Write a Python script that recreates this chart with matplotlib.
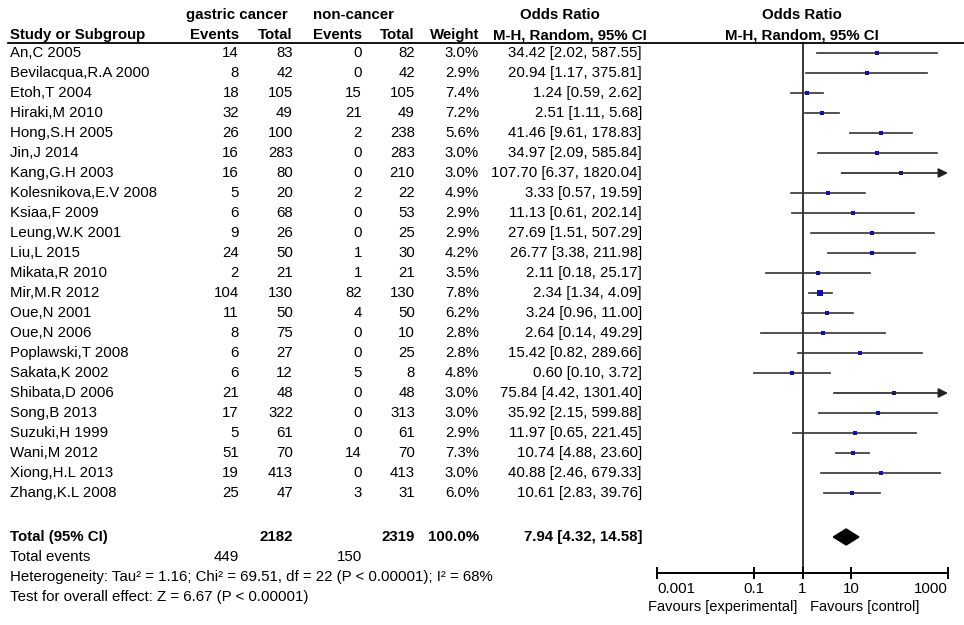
import numpy as np
import matplotlib
matplotlib.use('Agg')
import matplotlib.pyplot as plt
from matplotlib.patches import Polygon

plt.rcParams['font.family'] = ['Liberation Sans', 'DejaVu Sans']

studies = ['An,C 2005', 'Bevilacqua,R.A 2000', 'Etoh,T 2004', 'Hiraki,M 2010',
           'Hong,S.H 2005', 'Jin,J 2014', 'Kang,G.H 2003', 'Kolesnikova,E.V 2008',
           'Ksiaa,F 2009', 'Leung,W.K 2001', 'Liu,L 2015', 'Mikata,R 2010',
           'Mir,M.R 2012', 'Oue,N 2001', 'Oue,N 2006', 'Poplawski,T 2008',
           'Sakata,K 2002', 'Shibata,D 2006', 'Song,B 2013', 'Suzuki,H 1999',
           'Wani,M 2012', 'Xiong,H.L 2013', 'Zhang,K.L 2008']
ev_gc = [14, 8, 18, 32, 26, 16, 16, 5, 6, 9, 24, 2, 104, 11, 8, 6, 6, 21, 17, 5, 51, 19, 25]
tot_gc = [83, 42, 105, 49, 100, 283, 80, 20, 68, 26, 50, 21, 130, 50, 75, 27, 12, 48, 322, 61, 70, 413, 47]
ev_nc = [0, 0, 15, 21, 2, 0, 0, 2, 0, 0, 1, 1, 82, 4, 0, 0, 5, 0, 0, 0, 14, 0, 3]
tot_nc = [82, 42, 105, 49, 238, 283, 210, 22, 53, 25, 30, 21, 130, 50, 10, 25, 8, 48, 313, 61, 70, 413, 31]
weight = [3.0, 2.9, 7.4, 7.2, 5.6, 3.0, 3.0, 4.9, 2.9, 2.9, 4.2, 3.5, 7.8, 6.2, 2.8, 2.8,
          4.8, 3.0, 3.0, 2.9, 7.3, 3.0, 6.0]
odds = [34.42, 20.94, 1.24, 2.51, 41.46, 34.97, 107.70, 3.33, 11.13, 27.69, 26.77, 2.11,
        2.34, 3.24, 2.64, 15.42, 0.60, 75.84, 35.92, 11.97, 10.74, 40.88, 10.61]
ci_lo = [2.02, 1.17, 0.59, 1.11, 9.61, 2.09, 6.37, 0.57, 0.61, 1.51, 3.38, 0.18,
         1.34, 0.96, 0.14, 0.82, 0.10, 4.42, 2.15, 0.65, 4.88, 2.46, 2.83]
ci_hi = [587.55, 375.81, 2.62, 5.68, 178.83, 585.84, 1820.04, 19.59, 202.14, 507.29,
         211.98, 25.17, 4.09, 11.00, 49.29, 289.66, 3.72, 1301.40, 599.88, 221.45,
         23.60, 679.33, 39.76]
total_n = [2182, 2319]
total_events = [449, 150]
total_or = [7.94, 4.32, 14.58]
ticks = [0.001, 0.1, 1, 10, 1000]
tick_labels = ['0.001', '0.1', '1', '10', '1000']

fs = 10.8
fig = plt.figure(figsize=(9.64, 6.25), dpi=100)
ax = fig.add_axes([0, 0, 1, 1])
ax.set_xlim(0, 964)
ax.set_ylim(625, 0)
ax.axis('off')

# header
ax.text(237, 15, 'gastric cancer', ha='center', va='center', fontsize=fs, fontweight='bold')
ax.text(353, 15, 'non-cancer', ha='center', va='center', fontsize=fs, fontweight='bold')
ax.text(560, 15, 'Odds Ratio', ha='center', va='center', fontsize=fs, fontweight='bold')
ax.text(802, 15, 'Odds Ratio', ha='center', va='center', fontsize=fs, fontweight='bold')
ax.text(10, 35, 'Study or Subgroup', ha='left', va='center', fontsize=fs, fontweight='bold')
cols = [239, 293, 362, 415, 479]
for x, lab in zip(cols, ['Events', 'Total', 'Events', 'Total', 'Weight']):
    ax.text(x, 35, lab, ha='right', va='center', fontsize=fs, fontweight='bold')
ax.text(570, 35, 'M-H, Random, 95% CI', ha='center', va='center', fontsize=fs, fontweight='bold')
ax.text(802, 35, 'M-H, Random, 95% CI', ha='center', va='center', fontsize=fs, fontweight='bold')
ax.plot([8, 964], [42.5, 42.5], color='black', lw=1.3)

y0, dy = 53, 20
rows = y0 + dy * np.arange(len(studies))
for i, y in enumerate(rows):
    ax.text(10, y, studies[i], ha='left', va='center', fontsize=fs)
    vals = [str(ev_gc[i]), str(tot_gc[i]), str(ev_nc[i]), str(tot_nc[i]), f'{weight[i]:.1f}%']
    for x, v in zip(cols, vals):
        ax.text(x, y, v, ha='right', va='center', fontsize=fs)
    ax.text(642, y, f'{odds[i]:.2f} [{ci_lo[i]:.2f}, {ci_hi[i]:.2f}]',
            ha='right', va='center', fontsize=fs)

yt = 537
ax.text(10, yt, 'Total (95% CI)', ha='left', va='center', fontsize=fs, fontweight='bold')
ax.text(cols[1], yt, str(total_n[0]), ha='right', va='center', fontsize=fs, fontweight='bold')
ax.text(cols[3], yt, str(total_n[1]), ha='right', va='center', fontsize=fs, fontweight='bold')
ax.text(cols[4], yt, '100.0%', ha='right', va='center', fontsize=fs, fontweight='bold')
ax.text(642, yt, f'{total_or[0]:.2f} [{total_or[1]:.2f}, {total_or[2]:.2f}]',
        ha='right', va='center', fontsize=fs, fontweight='bold')
ax.text(10, 557, 'Total events', ha='left', va='center', fontsize=fs)
ax.text(cols[0], 557, str(total_events[0]), ha='right', va='center', fontsize=fs)
ax.text(cols[2], 557, str(total_events[1]), ha='right', va='center', fontsize=fs)
ax.text(10, 577, 'Heterogeneity: Tau\u00b2 = 1.16; Chi\u00b2 = 69.51, df = 22 (P < 0.00001); I\u00b2 = 68%',
        ha='left', va='center', fontsize=fs)
ax.text(10, 597, 'Test for overall effect: Z = 6.67 (P < 0.00001)',
        ha='left', va='center', fontsize=fs)

# forest panel
fa = fig.add_axes([657 / 964, 0, (948 - 657) / 964, 1])
fa.set_xscale('log')
fa.set_xlim(1e-3, 1e3)
fa.set_ylim(625, 0)
fa.patch.set_alpha(0)
for s in ['top', 'left', 'right']:
    fa.spines[s].set_visible(False)
fa.spines['bottom'].set_position(('data', 573))
fa.spines['bottom'].set_linewidth(1.4)
fa.set_yticks([])
fa.set_xticks(ticks)
fa.set_xticklabels(tick_labels)
fa.minorticks_off()
fa.tick_params(axis='x', direction='inout', length=9, width=1.4, labelsize=fs, pad=2)
lbls = fa.get_xticklabels()
lbls[0].set_horizontalalignment('left')
lbls[-1].set_horizontalalignment('right')

fa.plot([1, 1], [43, 573], color='black', lw=1.1)
for i, y in enumerate(rows):
    hi = ci_hi[i]
    if hi > 1e3:
        fa.annotate('', xy=(1e3, y), xytext=(ci_lo[i], y),
                    arrowprops=dict(arrowstyle='-|>', color='#222222', lw=1.2,
                                    mutation_scale=14, shrinkA=0, shrinkB=0))
    else:
        fa.plot([ci_lo[i], hi], [y, y], color='#333333', lw=1.2)
    fa.plot(odds[i], y, marker='s', color='#1010b0', ms=1.3 * np.sqrt(weight[i]), mew=0)

dia = Polygon([(total_or[1], yt), (total_or[0], yt - 8), (total_or[2], yt), (total_or[0], yt + 8)],
              closed=True, color='black')
fa.add_patch(dia)

ax.text(797, 607, 'Favours [experimental]', ha='right', va='center', fontsize=10.5)
ax.text(810, 607, 'Favours [control]', ha='left', va='center', fontsize=10.5)

fig.savefig('out.png', dpi=100)
